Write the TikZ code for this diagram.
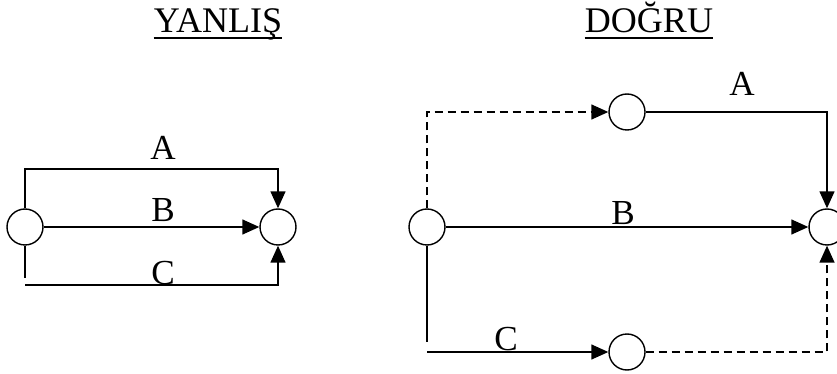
\documentclass[tikz,border=0pt]{standalone}
\usepackage{fontspec}
\setmainfont{Liberation Serif}
\usetikzlibrary{arrows.meta}
\tikzset{>={Triangle[length=0.34cm,width=0.3cm]}}

\begin{document}
\begin{tikzpicture}[x=0.02cm, y=-0.02cm,
    event/.style = {draw, circle, line width=0.8pt, minimum size=0.72cm, inner sep=0pt},
    act/.style = {line width=0.8pt},
    dummy/.style = {line width=0.8pt, dash pattern=on 0.16cm off 0.1cm},
    lbl/.style = {anchor=base, inner sep=0pt, font=\fontsize{20}{24}\selectfont},
    ttl/.style = {anchor=base, inner sep=0pt, font=\fontsize{20.5}{24}\selectfont}]

    \useasboundingbox (0,0) rectangle (837,374);

    % titles
    \node[ttl] (yanlis) at (218,33) {YANLIŞ};
    \node[ttl] (dogru) at (649,33) {DOĞRU};
    \draw[line width=1.4pt] ([yshift=-0.1cm]yanlis.base west) -- ([yshift=-0.1cm]yanlis.base east);
    \draw[line width=1.4pt] ([yshift=-0.1cm]dogru.base west) -- ([yshift=-0.1cm]dogru.base east);

    % wrong: three parallel activities between the same two events
    \begin{scope}
        \node[event] (l1) at (25,227) {};
        \node[event] (l2) at (278,227) {};
        \coordinate (la) at (25,169);
        \coordinate (lb) at (278,169);
        \coordinate (lc) at (25,278);
        \coordinate (ld) at (25,285);
        \coordinate (le) at (278,285);

        \draw[act,->] (l1.north) -- (la) -- (lb) -- (l2.north);
        \draw[act,->] (l1) -- (l2);
        \draw[act] (l1.south) -- (lc);
        \draw[act,->] (ld) -- (le) -- (l2.south);

        \node[lbl] (lA) at (163,160) {A};
        \node[lbl] (lB) at (163,222) {B};
        \node[lbl] (lC) at (163,285) {C};
    \end{scope}

    % right: dummy activities keep the events apart
    \begin{scope}
        \node[event] (r1) at (427,227) {};
        \node[event] (r2) at (627,112) {};
        \node[event] (r3) at (627,352) {};
        \node[event] (r4) at (827,227) {};
        \coordinate (ra) at (427,112);
        \coordinate (rb) at (827,112);
        \coordinate (rc) at (427,342);
        \coordinate (rd) at (427,352);
        \coordinate (re) at (827,352);

        \draw[dummy,->] (r1.north) -- (ra) -- (r2.west);
        \draw[act,->] (r2.east) -- (rb) -- (r4.north);
        \draw[act,->] (r1) -- (r4);
        \draw[act] (r1.south) -- (rc);
        \draw[act,->] (rd) -- (r3.west);
        \draw[dummy,->] (r3.east) -- (re) -- (r4.south);

        \node[lbl] (rA) at (742,96) {A};
        \node[lbl] (rB) at (623,225) {B};
        \node[lbl] (rC) at (506,350) {C};
    \end{scope}

\end{tikzpicture}
\end{document}
